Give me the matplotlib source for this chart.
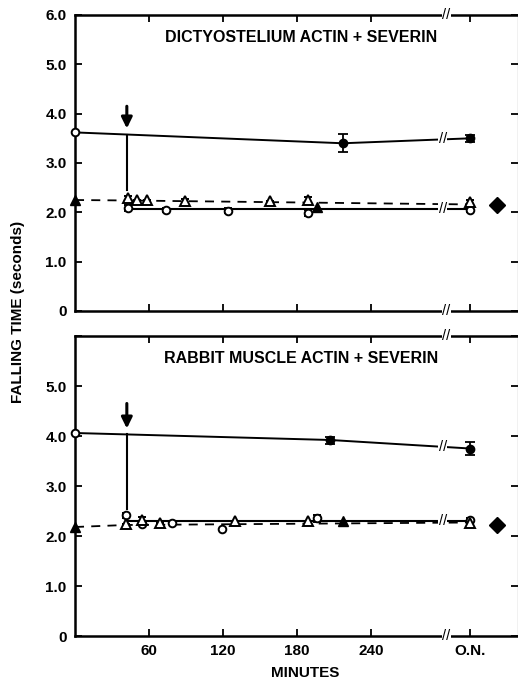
import numpy as np
import matplotlib
matplotlib.use("Agg")
import matplotlib.pyplot as plt

plt.rcParams["font.family"] = ["Liberation Sans", "DejaVu Sans"]
plt.rcParams["font.weight"] = "bold"

# x axis: minutes, then a break and the overnight (O.N.) reading
tick_minutes = [60, 120, 180, 240]
tick_labels = ["60", "120", "180", "240", "O.N."]
y_ticks = [0, 1, 2, 3, 4, 5, 6]
y_labels = ["0", "1.0", "2.0", "3.0", "4.0", "5.0", "6.0"]

# ---- Dictyostelium actin + severin ----
dic_ctrl_t = [0, 217]
dic_ctrl_y = [3.62, 3.40]
dic_ctrl_err = [0, 0.18]
dic_ctrl_on, dic_ctrl_on_err = 3.50, 0.07

dic_circ_t = [43, 74, 124, 189]
dic_circ_y = [2.09, 2.05, 2.03, 1.99]
dic_circ_err = [0.06, 0.04, 0.05, 0.06]
dic_circ_on, dic_circ_on_err = 2.05, 0.04

dic_tri_t = [43, 50, 58, 89, 158, 189]
dic_tri_y = [2.29, 2.25, 2.25, 2.23, 2.23, 2.25]
dic_tri_err = [0.05, 0, 0, 0.05, 0, 0.06]
dic_tri_on, dic_tri_on_err = 2.21, 0.04

dic_ftri_t = [0, 196]
dic_ftri_y = [2.25, 2.11]
dic_diamond = 2.15

dic_solid_t = [43]
dic_solid_y = [2.06]
dic_solid_on = 2.06
dic_dash_t = [0, 43]
dic_dash_y = [2.25, 2.24]
dic_dash_on = 2.16
dic_drop_bottom = 2.45

# ---- Rabbit muscle actin + severin ----
rab_ctrl_t = [0, 207]
rab_ctrl_y = [4.06, 3.92]
rab_ctrl_err = [0, 0.07]
rab_ctrl_on, rab_ctrl_on_err = 3.75, 0.13

rab_circ_t = [41, 54, 79, 119, 196]
rab_circ_y = [2.42, 2.24, 2.27, 2.14, 2.36]
rab_circ_err = [0.05, 0, 0, 0, 0.07]
rab_circ_on, rab_circ_on_err = 2.32, 0.05

rab_tri_t = [41, 54, 69, 130, 189]
rab_tri_y = [2.25, 2.33, 2.27, 2.30, 2.30]
rab_tri_err = [0, 0.05, 0, 0, 0]
rab_tri_on, rab_tri_on_err = 2.27, 0.03

rab_ftri_t = [0, 217]
rab_ftri_y = [2.18, 2.30]
rab_diamond = 2.22

rab_solid_t = [41]
rab_solid_y = [2.30]
rab_solid_on = 2.30
rab_dash_t = [0, 41]
rab_dash_y = [2.18, 2.22]
rab_dash_on = 2.27
rab_drop_bottom = 2.55

ON = 320
BREAK = 301
DIAMOND_X = 342
SEVERIN = 42


def break_mark(ax, x, y):
    ax.text(x, y, "//", ha="center", va="center", fontsize=10.5,
            fontweight="normal", zorder=6, clip_on=False,
            bbox=dict(boxstyle="square,pad=0.02", fc="white", ec="none"))


def panel(ax, title, ctrl, circ, tri, ftri, diamond, solid, dash,
          drop_bottom, arrow_top, arrow_tip, show_top_label):
    ct, cy, ce, con, cone = ctrl
    # control line
    cx = ct + [ON]
    cyy = cy + [con]
    ax.plot(cx, cyy, color="black", lw=1.4, zorder=3)
    ax.plot(ct[0], cy[0], "o", ms=5.5, mfc="white", mec="black", mew=1.4,
            zorder=5, clip_on=False)
    ax.errorbar(cx[1:], cyy[1:], yerr=ce[1:] + [cone], fmt="o", ms=6,
                color="black", capsize=3.5, elinewidth=1.3, capthick=1.3,
                zorder=5)

    # severin lines
    st, sy, son = solid
    ax.plot(st + [ON], sy + [son], color="black", lw=1.5, zorder=3)
    dt, dy, don = dash
    ax.plot(dt + [ON], dy + [don], color="black", lw=1.3, ls=(0, (5, 4)),
            zorder=3)

    ot, oy, oe, oon, oone = circ
    ax.errorbar(ot + [ON], oy + [oon], yerr=oe + [oone], fmt="o", ms=5.5,
                mfc="white", mec="black", mew=1.4, ecolor="black",
                capsize=3, elinewidth=1.2, capthick=1.2, zorder=5)
    tt, ty, te, ton, tone = tri
    ax.errorbar(tt + [ON], ty + [ton], yerr=te + [tone], fmt="^", ms=6.5,
                mfc="white", mec="black", mew=1.4, ecolor="black",
                capsize=3, elinewidth=1.2, capthick=1.2, zorder=5)
    ax.plot(ftri[0], ftri[1], "^", ms=6.5, color="black", zorder=5,
            ls="none", clip_on=False)
    ax.plot(DIAMOND_X, diamond, "D", ms=8, color="black", zorder=5)

    # severin addition
    top = np.interp(SEVERIN, cx, cyy)
    ax.plot([SEVERIN, SEVERIN], [top, drop_bottom], color="black", lw=1.5)
    ax.annotate("", xy=(SEVERIN, arrow_tip), xytext=(SEVERIN, arrow_top),
                arrowprops=dict(arrowstyle="-|>,head_width=0.32,head_length=0.65",
                                color="black", lw=2.2, shrinkA=0, shrinkB=0))

    # breaks on the lines and spines
    xb = BREAK - 3
    break_mark(ax, xb, np.interp(xb, cx, cyy))
    break_mark(ax, xb, np.interp(xb, st + [ON], sy + [son]))
    break_mark(ax, BREAK, 0)
    break_mark(ax, BREAK, 6)

    ax.set_xlim(0, 359)
    ax.set_ylim(0, 6)
    ax.set_xticks(tick_minutes + [ON])
    ax.set_yticks(y_ticks)
    if show_top_label:
        ax.set_yticklabels(y_labels)
    else:
        ax.set_yticklabels(y_labels[:-1] + [""])
    ax.tick_params(direction="in", length=5, width=1.3, top=True,
                   right=True, labelsize=11, pad=6)
    for s in ax.spines.values():
        s.set_linewidth(1.8)
    ax.spines["right"].set_linewidth(0.8)
    ax.text(0.51, 0.925, title, transform=ax.transAxes, ha="center",
            va="center", fontsize=11.5, fontweight="bold")


fig = plt.figure(figsize=(5.18, 6.81), dpi=100)
W, H = 518, 681
ax1 = fig.add_axes([75 / W, 1 - 311 / H, 443 / W, 296 / H])
ax2 = fig.add_axes([75 / W, 1 - 636 / H, 443 / W, 300 / H])

panel(ax1, "DICTYOSTELIUM ACTIN + SEVERIN",
      (dic_ctrl_t, dic_ctrl_y, dic_ctrl_err, dic_ctrl_on, dic_ctrl_on_err),
      (dic_circ_t, dic_circ_y, dic_circ_err, dic_circ_on, dic_circ_on_err),
      (dic_tri_t, dic_tri_y, dic_tri_err, dic_tri_on, dic_tri_on_err),
      (dic_ftri_t, dic_ftri_y), dic_diamond,
      (dic_solid_t, dic_solid_y, dic_solid_on),
      (dic_dash_t, dic_dash_y, dic_dash_on),
      dic_drop_bottom, 4.15, 3.70, True)
ax1.set_xticklabels([])

panel(ax2, "RABBIT MUSCLE ACTIN + SEVERIN",
      (rab_ctrl_t, rab_ctrl_y, rab_ctrl_err, rab_ctrl_on, rab_ctrl_on_err),
      (rab_circ_t, rab_circ_y, rab_circ_err, rab_circ_on, rab_circ_on_err),
      (rab_tri_t, rab_tri_y, rab_tri_err, rab_tri_on, rab_tri_on_err),
      (rab_ftri_t, rab_ftri_y), rab_diamond,
      (rab_solid_t, rab_solid_y, rab_solid_on),
      (rab_dash_t, rab_dash_y, rab_dash_on),
      rab_drop_bottom, 4.65, 4.15, False)
ax2.set_xticklabels(tick_labels)
ax2.set_xlabel("MINUTES", fontsize=11, fontweight="bold", labelpad=5)
ax2.xaxis.set_label_coords(0.52, -0.1)

fig.text(18 / W, 1 - 312 / H, "FALLING TIME (seconds)", rotation=90,
         ha="center", va="center", fontsize=11, fontweight="bold")

fig.savefig("out.png", dpi=100)
